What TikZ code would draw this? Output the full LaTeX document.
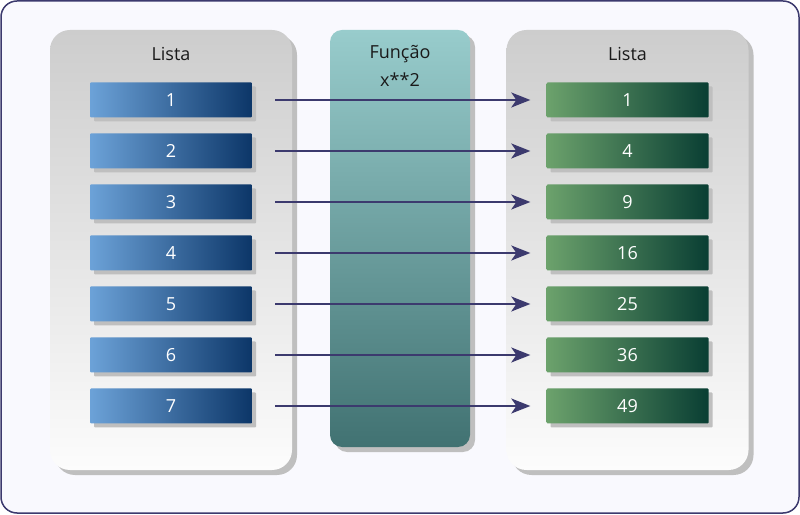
\documentclass[tikz,border=0pt]{standalone}
\usepackage{fontspec}
\setmainfont{Open Sans}
\usetikzlibrary{shadows,arrows.meta}

\definecolor{frameC}{HTML}{3C3A6E}
\definecolor{backC}{HTML}{F9F9FE}
\definecolor{panelTop}{HTML}{CDCDCD}
\definecolor{panelBot}{HTML}{FCFCFC}
\definecolor{funcTop}{HTML}{98CCCC}
\definecolor{funcBot}{HTML}{417272}
\definecolor{blueTop}{HTML}{6CA2D8}
\definecolor{blueBot}{HTML}{0C3668}
\definecolor{greenTop}{HTML}{6CA26C}
\definecolor{greenBot}{HTML}{093E33}
\definecolor{titleC}{HTML}{1A1A1A}

\tikzset{
  shade/.style={drop shadow={shadow xshift=#1, shadow yshift=-#1, fill=black!25, opacity=1}},
  panel/.style={rounded corners=20pt, minimum width=242pt, minimum height=440pt,
    inner sep=0pt, top color=panelTop, bottom color=panelBot, shade=5pt},
  funcpanel/.style={rounded corners=12pt, minimum width=140pt, minimum height=417pt,
    inner sep=0pt, top color=funcTop, bottom color=funcBot, shade=5pt},
  inbox/.style={minimum width=162pt, minimum height=35pt, inner sep=0pt, rounded corners=1pt,
    left color=blueTop, right color=blueBot, text=white, shade=4pt},
  outbox/.style={inbox, left color=greenTop, right color=greenBot},
  title/.style={text=titleC, align=center},
  link/.style={draw=frameC, line width=2pt, shorten <=23pt, shorten >=16pt,
    -{Stealth[length=19pt, width=15pt, inset=5pt]}},
}

\begin{document}
\begin{tikzpicture}[x=1pt, y=1pt, font=\fontsize{18}{28}\selectfont]
\useasboundingbox (0,0) rectangle (800,514);
\draw[frameC, fill=backC, line width=1.5pt, rounded corners=16pt] (1,1) rectangle (799,513);

% panels
\node[panel] (lstA) at (171,264) {};
\node[panel] (lstB) at (627.5,264) {};
\node[funcpanel] (func) at (400,275.5) {};

\node[title] (lstAtitle) at (171,460) {Lista};
\node[title] (lstBtitle) at (627.5,460) {Lista};
\node[title] (functitle) at (400,448) {Função\\x**2};

% elements and mapping
\foreach \v [count=\i] in {1,4,9,16,25,36,49} {
  \node[inbox] (in\i) at (171,{414-51*(\i-1)}) {\i};
  \node[outbox] (out\i) at (627.5,{414-51*(\i-1)}) {\v};
  \draw[link] (in\i) -- (out\i);
}

\end{tikzpicture}
\end{document}
